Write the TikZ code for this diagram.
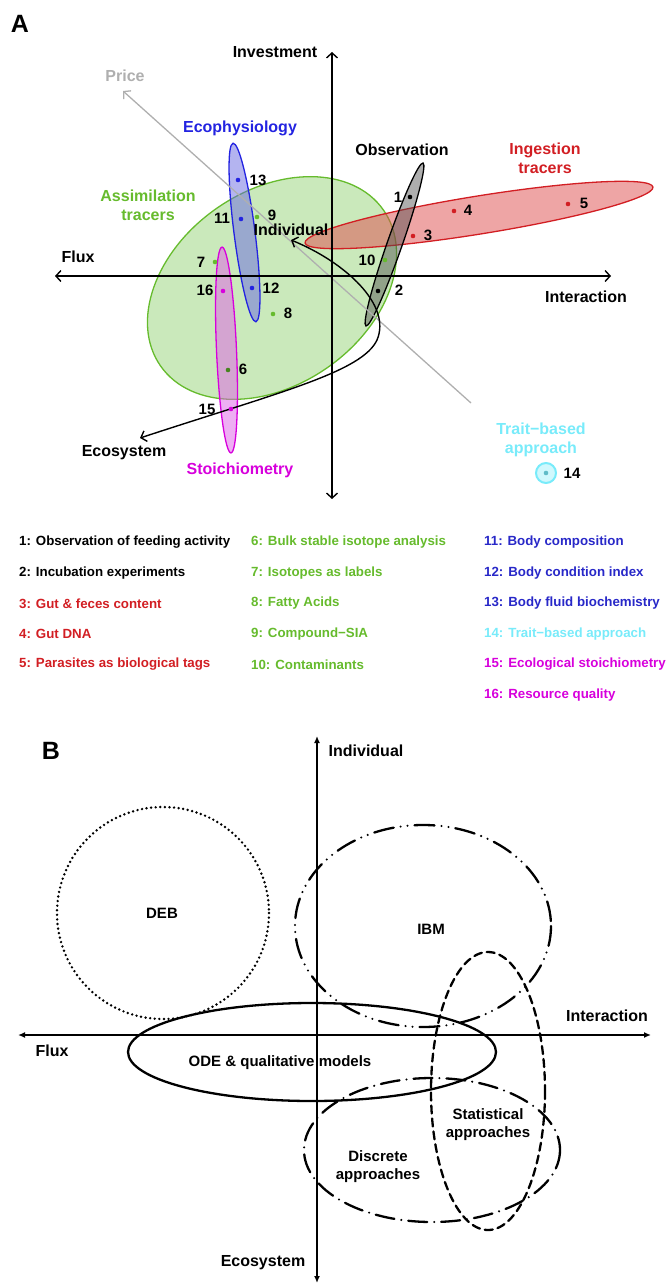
\documentclass[tikz,border=0pt]{standalone}
\usepackage{fontspec}
\setmainfont{Liberation Sans}
\usetikzlibrary{arrows.meta}
\definecolor{cgreen}{RGB}{102,187,45}
\definecolor{cgreenfill}{RGB}{150,212,120}
\definecolor{cblue}{RGB}{35,35,225}
\definecolor{cbluefill}{RGB}{105,105,225}
\definecolor{cbluetext}{RGB}{40,40,200}
\definecolor{cred}{RGB}{210,30,35}
\definecolor{credfill}{RGB}{222,75,75}
\definecolor{cmag}{RGB}{215,0,220}
\definecolor{cmagfill}{RGB}{222,95,232}
\definecolor{ccyan}{RGB}{120,235,250}
\definecolor{cgray}{RGB}{175,175,175}
\begin{document}
\begin{tikzpicture}[x=1pt,y=-1pt,
  lab/.style={font=\fontsize{16}{19}\selectfont\bfseries, inner sep=0pt, align=center},
  big/.style={font=\fontsize{25}{28}\selectfont\bfseries, inner sep=0pt},
  num/.style={font=\fontsize{15}{17}\selectfont\bfseries, inner sep=0pt},
  leg/.style={font=\fontsize{13.3}{16}\selectfont\bfseries, inner sep=0pt, anchor=west},
  blab/.style={font=\fontsize{15}{18}\selectfont\bfseries, inner sep=0pt, align=center},
  dotc/.style={circle, fill=#1, inner sep=0pt, minimum size=4.6pt},
  axA/.style={line width=1.4pt, {Straight Barb[length=5pt,width=11pt]}-{Straight Barb[length=5pt,width=11pt]}},
  axB/.style={line width=2pt, {Latex[length=7pt,width=6pt]}-{Latex[length=7pt,width=6pt]}},
  ellB/.style={line width=2.3pt, line cap=round},
  region/.style={line width=1.3pt, fill opacity=0.5},
]
\useasboundingbox (0,0) rectangle (667,1284);

% ================= Panel A =================
\node[big] (labA) at (20,24) {A};

% regions
\draw[region, draw=cgreen, fill=cgreenfill, rotate around={35:(272,288)}] (272,288) ellipse (136 and 97);
\draw[region, draw=cred, fill=credfill, rotate around={9.14:(479,215)}] (479,215) ellipse (176.2 and 19);
\draw[region, draw=black, fill=black!70, fill opacity=0.45, rotate around={70.7:(394.5,244.5)}] (394.5,244.5) ellipse (86.3 and 7.5);
\draw[region, draw=cblue, fill=cbluefill, rotate around={97.3:(244.5,232.5)}] (244.5,232.5) ellipse (90 and 10.5);
\draw[region, draw=cmag, fill=cmagfill, rotate around={92.5:(226.5,350)}] (226.5,350) ellipse (103 and 10);

% axes
\coordinate (pS) at (471,403);
\coordinate (pE) at (123,91);
\draw[cgray, line width=1.3pt, -{Straight Barb[length=5pt,width=11pt]}] (pS) -- (pE);
\coordinate (aT) at (332,52);
\coordinate (aB) at (332,499);
\coordinate (aL) at (55,276);
\coordinate (aR) at (611,276);
\draw[axA] (aB) -- (aT);
\draw[axA] (aL) -- (aR);

\node[lab] (tInv) at (275,52) {Investment};
\node[lab, text=cgray] (tPrice) at (125,76) {Price};
\node[lab] (tFlux) at (78,257) {Flux};
\node[lab] (tInter) at (586,297) {Interaction};

% curved arrow Individual <-> Ecosystem
\node[lab] (tIndA) at (291,230) {Individual};
\node[lab] (tEcoA) at (124,453) {Ecosystem};
\coordinate (cI) at (291,240);
\coordinate (cE) at (140,438);
\draw[line width=1.4pt, {Straight Barb[length=5pt,width=11pt]}-{Straight Barb[length=5pt,width=11pt]}]
  (cI) .. controls (345,262) and (392,305) .. (377,340)
       .. controls (362,372) and (280,392) .. (cE);

% category labels
\node[lab, text=cblue] (tEco) at (240,128) {Ecophysiology};
\node[lab, text=cgreen] (tAss) at (148,205) {Assimilation\\tracers};
\node[lab] (tObs) at (402,150) {Observation};
\node[lab, text=cred] (tIng) at (545,158) {Ingestion\\tracers};
\node[lab, text=cmag] (tSto) at (240,470) {Stoichiometry};
\node[lab, text=ccyan] (tTrait) at (541,440) {Trait−based\\approach};

% trait-based circle
\draw[ccyan, line width=2pt, fill=ccyan!35] (546,473) circle (10);

% points
\node[dotc=black] (d1) at (410,197) {};
\node[dotc=black] (d2) at (378,291) {};
\node[dotc=cred] (d3) at (413,236) {};
\node[dotc=cred] (d4) at (454,211) {};
\node[dotc=cred] (d5) at (568,204) {};
\node[dotc=cgreen!70!black] (d6) at (228,370) {};
\node[dotc=cgreen] (d7) at (215,262) {};
\node[dotc=cgreen] (d8) at (273,314) {};
\node[dotc=cgreen] (d9) at (257,217) {};
\node[dotc=cgreen] (d10) at (385,260) {};
\node[dotc=cblue] (d11) at (241,219) {};
\node[dotc=cblue] (d12) at (252,288) {};
\node[dotc=cblue] (d13) at (238,180) {};
\node[dotc=ccyan!80!black] (d14) at (546,473) {};
\node[dotc=cmag] (d15) at (231,409) {};
\node[dotc=cmag] (d16) at (223,291) {};

\node[num] (n1) at (398,197) {1};
\node[num] (n2) at (399,290) {2};
\node[num] (n3) at (428,235) {3};
\node[num] (n4) at (468,210) {4};
\node[num] (n5) at (584,203) {5};
\node[num] (n6) at (243,369) {6};
\node[num] (n7) at (201,262) {7};
\node[num] (n8) at (288,313) {8};
\node[num] (n9) at (272,215) {9};
\node[num] (n10) at (367,260) {10};
\node[num] (n11) at (222,218) {11};
\node[num] (n12) at (271,288) {12};
\node[num] (n13) at (258,180) {13};
\node[num] (n14) at (572,473) {14};
\node[num] (n15) at (207,409) {15};
\node[num] (n16) at (205,290) {16};

% legend
\node[leg] (l1) at (19,542) {1: Observation of feeding activity};
\node[leg] (l2) at (19,573) {2: Incubation experiments};
\node[leg, text=cred] (l3) at (19,603.5) {3: Gut \& feces content};
\node[leg, text=cred] (l4) at (19,634) {4: Gut DNA};
\node[leg, text=cred] (l5) at (19,664.5) {5: Parasites as biological tags};
\node[leg, text=cgreen] (l6) at (251,542) {6: Bulk stable isotope analysis};
\node[leg, text=cgreen] (l7) at (251,573) {7: Isotopes as labels};
\node[leg, text=cgreen] (l8) at (251,603.5) {8: Fatty Acids};
\node[leg, text=cgreen] (l9) at (251,634) {9: Compound−SIA};
\node[leg, text=cgreen] (l10) at (251,664.5) {10: Contaminants};
\node[leg, text=cbluetext] (l11) at (484,542) {11: Body composition};
\node[leg, text=cbluetext] (l12) at (484,573) {12: Body condition index};
\node[leg, text=cbluetext] (l13) at (484,603.5) {13: Body fluid biochemistry};
\node[leg, text=ccyan] (l14) at (484,634) {14: Trait−based approach};
\node[leg, text=cmag] (l15) at (484,664.5) {15: Ecological stoichiometry};
\node[leg, text=cmag] (l16) at (484,695) {16: Resource quality};

% ================= Panel B =================
\node[big] (labB) at (51,751) {B};

\coordinate (bT) at (317,736);
\coordinate (bB) at (317,1283);
\coordinate (bL) at (18,1035);
\coordinate (bR) at (651,1035);
\draw[axB] (bB) -- (bT);
\draw[axB] (bL) -- (bR);

\node[lab] (tIndB) at (366,751) {Individual};
\node[lab] (tInterB) at (607,1016) {Interaction};
\node[lab] (tFluxB) at (52,1051) {Flux};
\node[lab] (tEcoB) at (263,1263) {Ecosystem};

\draw[ellB, line width=2.7pt, dash pattern=on 0pt off 4.6pt] (163,913) circle (106);
\draw[ellB, dash pattern=on 20pt off 7pt on 0pt off 7pt on 0pt off 7pt] (423,926) ellipse (128 and 101);
\draw[ellB, dash pattern=on 8pt off 5pt] (488,1091) ellipse (57 and 139);
\draw[ellB, dash pattern=on 19pt off 7pt on 0pt off 7pt] (432,1150) ellipse (128 and 72);
\draw[ellB] (312,1052) ellipse (184 and 49);

\node[blab] (tDEB) at (162,913) {DEB};
\node[blab] (tIBM) at (431,929) {IBM};
\node[blab] (tODE) at (280,1063) {ODE \& qualitative models};
\node[blab] (tStat) at (488,1125) {Statistical\\approaches};
\node[blab] (tDisc) at (378,1167) {Discrete\\approaches};
\end{tikzpicture}
\end{document}
